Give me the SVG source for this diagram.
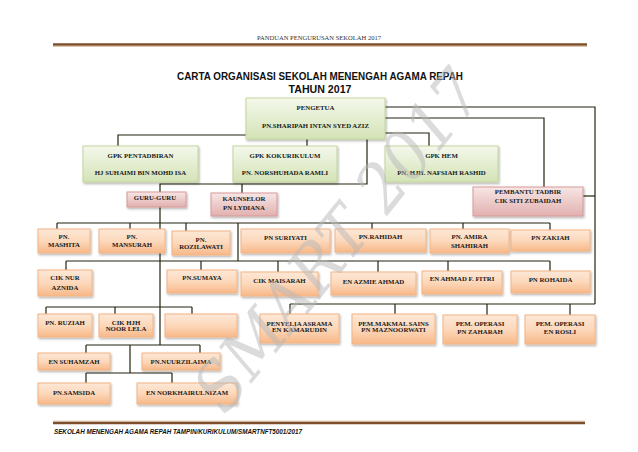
<svg xmlns="http://www.w3.org/2000/svg" width="638" height="452" viewBox="0 0 638 452">
<defs>
<linearGradient id="gg" x1="0" y1="0" x2="0" y2="1"><stop offset="0" stop-color="#f4f8ec"/><stop offset="1" stop-color="#d4e3b6"/></linearGradient>
<linearGradient id="gp" x1="0" y1="0" x2="0" y2="1"><stop offset="0" stop-color="#f7e6e6"/><stop offset="1" stop-color="#e2b0af"/></linearGradient>
<linearGradient id="go" x1="0" y1="0" x2="0" y2="1"><stop offset="0" stop-color="#fde8d7"/><stop offset="0.5" stop-color="#fcd8bb"/><stop offset="1" stop-color="#f7b888"/></linearGradient>
<filter id="sh" x="-10%" y="-10%" width="130%" height="150%"><feDropShadow dx="1" dy="1.5" stdDeviation="0.8" flood-color="#000" flood-opacity="0.3"/></filter>
<style>
.g{fill:url(#gg);stroke:#c3d69b;stroke-width:1;filter:url(#sh)}
.p{fill:url(#gp);stroke:#d79a98;stroke-width:1;filter:url(#sh)}
.o{fill:url(#go);stroke:#f4b483;stroke-width:1;filter:url(#sh)}
.t{font-family:"Liberation Serif",serif;font-weight:bold;font-size:6.8px;fill:#1a1a1a;text-anchor:middle}
.c{fill:none;stroke:#23230f;stroke-width:1.2}
.rule{stroke:#7b4f2c;stroke-width:2.4}
</style>
</defs>
<rect width="638" height="452" fill="#fff"/>
<text x="319" y="40" font-family="Liberation Serif,serif" font-size="6.2" fill="#333" text-anchor="middle" textLength="124" lengthAdjust="spacingAndGlyphs">PANDUAN PENGURUSAN SEKOLAH 2017</text>
<line class="rule" x1="53" y1="44.5" x2="587" y2="44.5"/>
<line x1="53" y1="46.3" x2="587" y2="46.3" stroke="#c9a27e" stroke-width="0.8"/>
<text x="320" y="80" font-family="Liberation Sans,sans-serif" font-weight="bold" font-size="11" fill="#111" text-anchor="middle" textLength="286" lengthAdjust="spacingAndGlyphs">CARTA ORGANISASI SEKOLAH MENENGAH AGAMA REPAH</text>
<text x="320" y="93" font-family="Liberation Sans,sans-serif" font-weight="bold" font-size="11" fill="#111" text-anchor="middle" textLength="63" lengthAdjust="spacingAndGlyphs">TAHUN 2017</text>

<g id="connectors">
<path class="c" d="M246 135H118V146"/>
<path class="c" d="M307 139V146"/>
<path class="c" d="M385 107H595V304"/>
<path class="c" d="M385 118H544V187"/>
<path class="c" d="M385 133H429V146"/>
<path class="c" d="M367 139V184H160V192M242 184V193"/>
<path class="c" d="M583 196H595"/>
<path class="c" d="M160 207V345"/>
<path class="c" d="M57 223H550M57 223V229M130 223V229M186 223V231M372 223V229M463 223V229M550 223V230M238 223V261"/>
<path class="c" d="M66 261H550M66 261V270M201 261V270M278 261V272M378 261V272M448 261V271M550 261V271"/>
<path class="c" d="M46 307H192M46 307V314M115 307V314M192 307V314"/>
<path class="c" d="M290 304H595M290 304V314M395 304V314M487 304V315M570 304V315"/>
<path class="c" d="M86 345H200M86 345V353M200 345V353M130 345V373"/>
<path class="c" d="M86 373H172M86 373V383M172 373V383"/>
</g>

<g id="pengetua"><rect class="g" x="246" y="98" width="139" height="41"/><text class="t" x="315.5" y="109.5">PENGETUA</text><text class="t" x="315.5" y="127.5">PN.SHARIPAH  INTAN  SYED  AZIZ</text></g>
<g id="gpk-pentadbiran"><rect class="g" x="83" y="146" width="115" height="36"/><text class="t" x="140.5" y="157.5">GPK  PENTADBIRAN</text><text class="t" x="140.5" y="174.5">HJ SUHAIMI  BIN  MOHD  ISA</text></g>
<g id="gpk-kokurikulum"><rect class="g" x="233" y="146" width="104" height="36"/><text class="t" x="285" y="157.5">GPK  KOKURIKULUM</text><text class="t" x="285" y="174.5">PN. NORSHUHADA  RAMLI</text></g>
<g id="gpk-hem"><rect class="g" x="385" y="146" width="113" height="36"/><text class="t" x="441.5" y="157.5">GPK  HEM</text><text class="t" x="441.5" y="174.5">PN. HJH.  NAFSIAH  RASHID</text></g>
<g id="guru-guru"><rect class="p" x="127" y="192" width="59" height="15"/><text class="t" x="155" y="199.5">GURU-GURU</text></g>
<g id="kaunselor"><rect class="p" x="211" y="193" width="66" height="23"/><text class="t" x="244" y="200.5">KAUNSELOR</text><text class="t" x="244" y="209.5">PN LYDIANA</text></g>
<g id="pembantu-tadbir"><rect class="p" x="473" y="187" width="110" height="29"/><text class="t" x="528" y="194">PEMBANTU  TADBIR</text><text class="t" x="528" y="203">CIK  SITI ZUBAIDAH</text></g>

<g id="mashita"><rect class="o" x="38" y="229" width="52" height="24"/><text class="t" x="64" y="239">PN.</text><text class="t" x="64" y="246.5">MASHITA</text></g>
<g id="mansurah"><rect class="o" x="99" y="229" width="66" height="24"/><text class="t" x="132" y="239">PN.</text><text class="t" x="132" y="246.5">MANSURAH</text></g>
<g id="rozilawati"><rect class="o" x="172" y="231" width="58" height="24"/><text class="t" x="201" y="241.5">PN.</text><text class="t" x="201" y="248.5">ROZILAWATI</text></g>
<g id="suriyati"><rect class="o" x="241" y="229" width="89" height="24"/><text class="t" x="285.5" y="239.5">PN SURIYATI</text></g>
<g id="rahidah"><rect class="o" x="335" y="229" width="91" height="23"/><text class="t" x="380.5" y="239">PN.RAHIDAH</text></g>
<g id="amira"><rect class="o" x="430" y="229" width="79" height="24"/><text class="t" x="469.5" y="238.5">PN. AMIRA</text><text class="t" x="469.5" y="247.5">SHAHIRAH</text></g>
<g id="zakiah"><rect class="o" x="511" y="230" width="79" height="21"/><text class="t" x="550.5" y="239.5">PN ZAKIAH</text></g>

<g id="aznida"><rect class="o" x="38" y="270" width="54" height="26"/><text class="t" x="65" y="279.5">CIK  NUR</text><text class="t" x="65" y="289.5">AZNIDA</text></g>
<g id="sumaya"><rect class="o" x="167" y="270" width="70" height="23"/><text class="t" x="202" y="279.5">PN.SUMAYA</text></g>
<g id="maisarah"><rect class="o" x="241" y="272" width="77" height="24"/><text class="t" x="279.5" y="282.5">CIK  MAISARAH</text></g>
<g id="azmie"><rect class="o" x="331" y="272" width="85" height="23"/><text class="t" x="373.5" y="283.5">EN  AZMIE  AHMAD</text></g>
<g id="fitri"><rect class="o" x="422" y="271" width="80" height="23"/><text class="t" x="462" y="280.5">EN  AHMAD  F.  FITRI</text></g>
<g id="rohaida"><rect class="o" x="511" y="271" width="79" height="22"/><text class="t" x="550.5" y="281.5">PN ROHAIDA</text></g>

<g id="ruziah"><rect class="o" x="38" y="314" width="54" height="23"/><text class="t" x="65" y="324.5">PN.  RUZIAH</text></g>
<g id="noor-lela"><rect class="o" x="99" y="314" width="54" height="23"/><text class="t" x="126" y="324.5">CIK  HJH</text><text class="t" x="126" y="330.5">NOOR LELA</text></g>
<g id="blank"><rect class="o" x="165" y="314" width="72" height="23"/></g>
<g id="penyelia"><rect class="o" x="260" y="314" width="79" height="29"/><text class="t" x="299.5" y="325.5">PENYELIA  ASRAMA</text><text class="t" x="299.5" y="332">EN  KAMARUDIN</text></g>
<g id="makmal"><rect class="o" x="352" y="314" width="83" height="30"/><text class="t" x="393.5" y="325.5">PEM.MAKMAL  SAINS</text><text class="t" x="393.5" y="332">PN MAZNOORWATI</text></g>
<g id="operasi-1"><rect class="o" x="443" y="315" width="74" height="29"/><text class="t" x="480" y="325.5">PEM.  OPERASI</text><text class="t" x="480" y="333.5">PN  ZAHARAH</text></g>
<g id="operasi-2"><rect class="o" x="525" y="315" width="70" height="29"/><text class="t" x="560" y="325.5">PEM.  OPERASI</text><text class="t" x="560" y="333.5">EN  ROSLI</text></g>

<g id="suhamzah"><rect class="o" x="38" y="353" width="72" height="17"/><text class="t" x="74" y="363.5">EN SUHAMZAH</text></g>
<g id="nuurzilaima"><rect class="o" x="142" y="353" width="78" height="17"/><text class="t" x="181" y="363.5">PN.NUURZILAIMA</text></g>
<g id="samsida"><rect class="o" x="38" y="383" width="72" height="21"/><text class="t" x="74" y="394.5">PN.SAMSIDA</text></g>
<g id="norkhairulnizam"><rect class="o" x="137" y="383" width="100" height="21"/><text class="t" x="187" y="394.5">EN  NORKHAIRULNIZAM</text></g>

<text transform="translate(225,416) rotate(-51)" font-family="DejaVu Serif,serif" font-style="italic" font-size="66" fill="#b8b8b8" fill-opacity="0.5" textLength="415" lengthAdjust="spacingAndGlyphs">SMART 2017</text>

<line class="rule" x1="53" y1="423" x2="585" y2="423"/>
<line x1="53" y1="421.2" x2="585" y2="421.2" stroke="#c9a27e" stroke-width="0.8"/>
<text x="54" y="434" font-family="Liberation Sans,sans-serif" font-weight="bold" font-style="italic" font-size="6.5" fill="#111" textLength="248" lengthAdjust="spacingAndGlyphs">SEKOLAH MENENGAH AGAMA REPAH TAMPIN/KURIKULUM/SMARTNFT5001/2017</text>
</svg>
